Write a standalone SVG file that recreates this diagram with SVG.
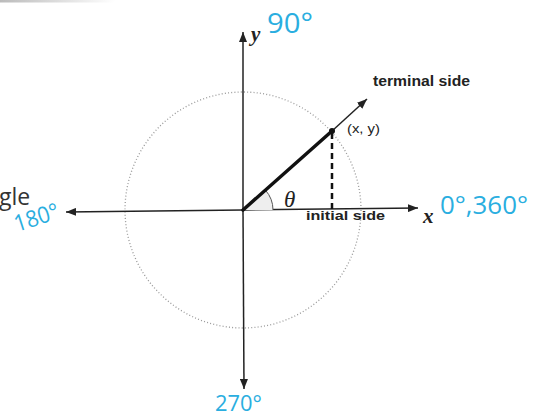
<svg xmlns="http://www.w3.org/2000/svg" width="548" height="419" viewBox="0 0 548 419">
  <defs>
    <marker id="ah" viewBox="0 0 10 8" refX="10" refY="4" markerWidth="10" markerHeight="8" markerUnits="userSpaceOnUse" orient="auto">
      <path d="M0,0 L10,4 L0,8 Z" fill="#222"/>
    </marker>
    <linearGradient id="scan" x1="0" x2="1" y1="0" y2="0">
      <stop offset="0" stop-color="#bbb"/>
      <stop offset="1" stop-color="#fff"/>
    </linearGradient>
    <style>
      .axis { stroke: #222; stroke-width: 1.5; fill: none; }
      .circ { stroke: #999; stroke-width: 1.3; stroke-dasharray: 1 2.2; fill: none; }
      .lbl { font-family: "Liberation Sans", Arial, sans-serif; font-weight: bold; fill: #222; }
      .var { font-family: "Liberation Serif", "Times New Roman", serif; font-style: italic; fill: #222; }
      .hand { font-family: "Open Sans", "Liberation Sans", sans-serif; font-weight: 400; fill: #2aaee0; }
    </style>
  </defs>
  <rect width="548" height="419" fill="#fff"/>
  <rect x="0" y="0" width="115" height="2.5" fill="url(#scan)"/>

  <text x="-1" y="205" font-family="'Open Sans', 'Liberation Sans', sans-serif" font-size="23" fill="#333">gle</text>

  <g id="circle">
    <circle class="circ" cx="243" cy="210" r="118"/>
  </g>

  <g id="connectors">
    <line class="axis" x1="243" y1="210" x2="66" y2="212" marker-end="url(#ah)"/>
    <line class="axis" x1="243" y1="210" x2="418" y2="208" marker-end="url(#ah)"/>
    <line class="axis" x1="243" y1="210" x2="243" y2="32" marker-end="url(#ah)"/>
    <line class="axis" x1="243" y1="210" x2="244" y2="389" marker-end="url(#ah)"/>
    <path d="M243,210 L273,210 A30,30 0 0 0 265.4,190.1 Z" fill="#eee" stroke="none"/>
    <path d="M273,210 A30,30 0 0 0 265.4,190.1" fill="none" stroke="#555" stroke-width="1"/>
    <line x1="243" y1="210" x2="332" y2="131" stroke="#111" stroke-width="3.5" stroke-linecap="round"/>
    <line class="axis" x1="332" y1="131" x2="367" y2="99" marker-end="url(#ah)"/>
    <line x1="332" y1="133" x2="332" y2="209" stroke="#111" stroke-width="2.5" stroke-dasharray="6 4"/>
    <circle cx="332" cy="131" r="3" fill="#111"/>
  </g>

  <g id="labels">
    <text class="var" x="251" y="41" font-size="21" font-weight="bold">y</text>
    <text class="var" x="423" y="223" font-size="21" font-weight="bold">x</text>
    <text class="var" x="284" y="207" font-size="23">θ</text>
    <text class="lbl" x="373" y="86" font-size="14" textLength="97" lengthAdjust="spacingAndGlyphs">terminal side</text>
    <text x="347" y="133" font-family="'Liberation Sans', Arial, sans-serif" font-size="13" fill="#222" textLength="33" lengthAdjust="spacingAndGlyphs">(x, y)</text>
    <text class="lbl" x="306" y="220" font-size="13.5" textLength="79" lengthAdjust="spacingAndGlyphs">initial side</text>
  </g>

  <g id="angles">
    <text class="hand" x="267" y="33" font-size="27" textLength="46" lengthAdjust="spacingAndGlyphs">90°</text>
    <text class="hand" x="440" y="214" font-size="25" textLength="88" lengthAdjust="spacingAndGlyphs">0°,360°</text>
    <text class="hand" x="0" y="0" font-size="23" transform="translate(17,232) rotate(-18)" textLength="46" lengthAdjust="spacingAndGlyphs">180°</text>
    <text class="hand" x="215" y="411" font-size="22" textLength="47" lengthAdjust="spacingAndGlyphs">270°</text>
  </g>
</svg>
